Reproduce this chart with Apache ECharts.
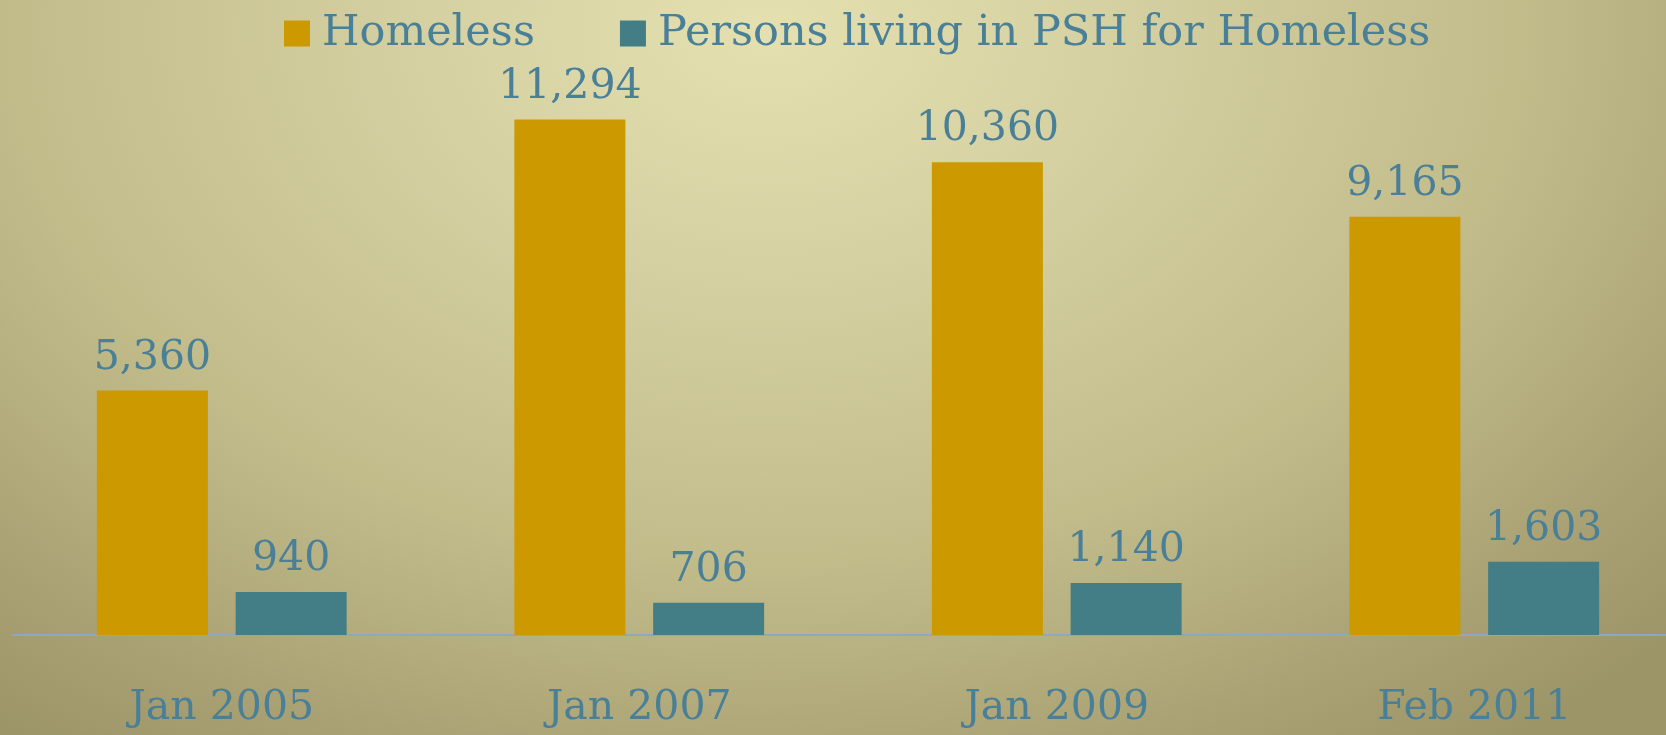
<!DOCTYPE html>
<html>
<head>
<meta charset="utf-8">
<script src="https://cdn.jsdelivr.net/npm/echarts@6/dist/echarts.min.js"></script>
<style>
html,body{margin:0;padding:0;width:1666px;height:735px;overflow:hidden;}
body{background:radial-gradient(ellipse 75% 120% at 46% 4%, #e4e0b0 0%, #d4cfa0 30%, #c2bc8b 60%, #aaa274 85%, #9c9567 100%);}
#chart{width:1700px;height:735px;}
</style>
</head>
<body>
<div id="chart"></div>
<script>
const categories = ['Jan 2005', 'Jan 2007', 'Jan 2009', 'Feb 2011'];
const homeless = [5360, 11294, 10360, 9165];
const psh = [940, 706, 1140, 1603];
const seriesNames = ['Homeless', 'Persons living in PSH for Homeless'];

const textColor = '#4a7f98';
const font = 'DejaVu Serif';
const chart = echarts.init(document.getElementById('chart'));
const labelFmt = p => p.value.toLocaleString('en-US');
chart.setOption({
  backgroundColor: 'transparent',
  animation: false,
  legend: {
    top: 7, left: 279,
    itemWidth: 26, itemHeight: 26, itemGap: 85,
    icon: 'rect',
    textStyle: {color: textColor, fontFamily: font, fontSize: 43, padding: [0, 0, 0, 7]},
    data: seriesNames
  },
  grid: {left: 13, top: 60, width: 1670, bottom: 100, containLabel: false},
  xAxis: {
    type: 'category', data: categories,
    axisLine: {show: true, lineStyle: {color: '#8ea8bf', width: 2}},
    axisTick: {show: false},
    axisLabel: {color: textColor, fontFamily: font, fontSize: 41, margin: 53}
  },
  yAxis: {
    type: 'value', min: 0, max: 12600, show: false,
    splitLine: {show: false}
  },
  series: [
    {name: seriesNames[0], type: 'bar', data: homeless, barWidth: 111, barGap: '25%',
     itemStyle: {color: '#cc9900'},
     label: {show: true, position: 'top', distance: 12, color: textColor, fontFamily: font, fontSize: 41, formatter: labelFmt}},
    {name: seriesNames[1], type: 'bar', data: psh, barWidth: 111,
     itemStyle: {color: '#437e87'},
     label: {show: true, position: 'top', distance: 12, color: textColor, fontFamily: font, fontSize: 41, formatter: labelFmt}}
  ]
});
</script>
</body>
</html>
